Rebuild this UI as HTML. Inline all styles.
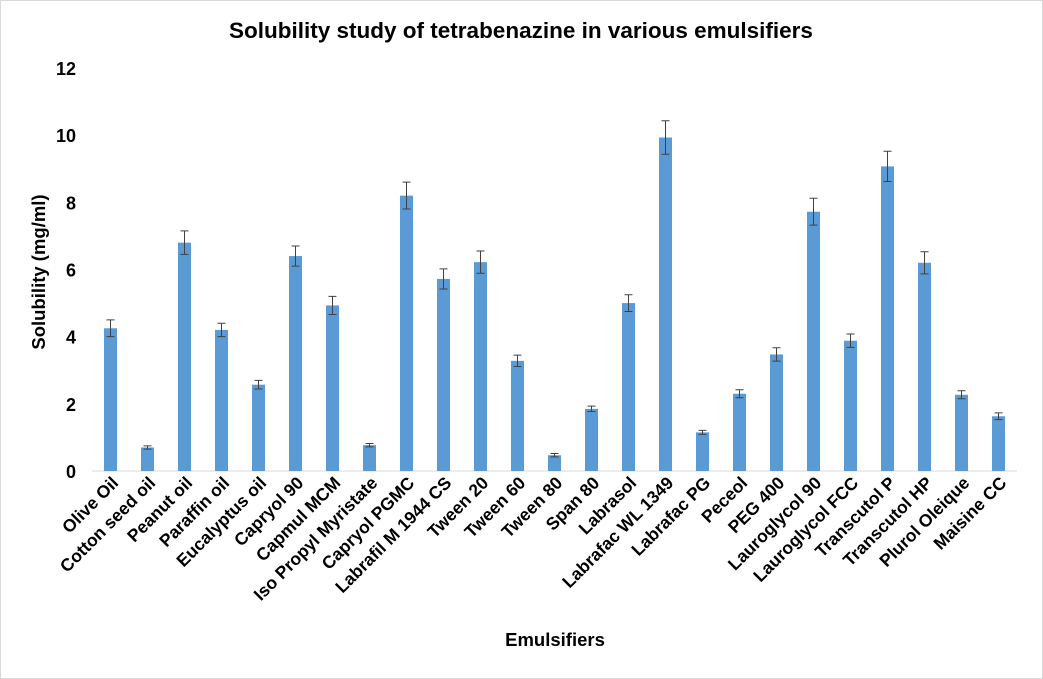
<!DOCTYPE html>
<html><head><meta charset="utf-8"><style>
body{margin:0;background:#fff;}
svg{display:block;font-family:"Liberation Sans",Arial,sans-serif;}
</style></head><body>
<svg width="1043" height="679" id="chart">
<rect x="0.5" y="0.5" width="1042" height="678" fill="#fff" stroke="#d9d9d9"/>
<text x="521" y="38" text-anchor="middle" font-size="22.5" font-weight="bold" fill="#000">Solubility study of tetrabenazine in various emulsifiers</text>
<text transform="translate(45,272) rotate(-90)" text-anchor="middle" font-size="18.5" font-weight="bold">Solubility (mg/ml)</text>
<text x="555" y="646" text-anchor="middle" font-size="18.5" font-weight="bold">Emulsifiers</text>
<g id="plot"></g>
</svg>
<script>
const categories=["Olive Oil","Cotton seed oil","Peanut oil","Paraffin oil","Eucalyptus oil","Capryol 90","Capmul MCM","Iso Propyl Myristate","Capryol PGMC","Labrafil M 1944 CS","Tween 20","Tween 60","Tween 80","Span 80","Labrasol","Labrafac WL 1349","Labrafac PG","Peceol","PEG 400","Lauroglycol 90","Lauroglycol FCC","Transcutol P","Transcutol HP","Plurol Oleique","Maisine CC"];
const values=[4.25,0.7,6.8,4.2,2.57,6.4,4.93,0.77,8.2,5.72,6.22,3.28,0.47,1.85,5.0,9.93,1.15,2.3,3.47,7.72,3.88,9.07,6.2,2.27,1.63];
const errors=[0.25,0.05,0.35,0.2,0.13,0.3,0.27,0.05,0.4,0.3,0.33,0.17,0.05,0.08,0.25,0.5,0.06,0.12,0.2,0.4,0.2,0.45,0.33,0.12,0.1];
const yTicks=[0,2,4,6,8,10,12];
const NS="http://www.w3.org/2000/svg";
const g=document.getElementById('plot');
const x0=92,x1=1017,yBase=471,yTop=68,yMax=12;
const band=(x1-x0)/categories.length;
const xc=i=>x0+band*(i+0.5);
const y=v=>yBase-(v/yMax)*(yBase-yTop);
function mk(t,a){const e=document.createElementNS(NS,t);for(const k in a)e.setAttribute(k,a[k]);g.appendChild(e);return e;}
yTicks.forEach(t=>{
  const e=mk('text',{x:76,y:y(t)+7,'text-anchor':'end','font-size':18,'font-weight':'bold'});
  e.textContent=t;
  
  
});
const ax=mk('line',{x1:x0,x2:x1,y1:yBase,y2:yBase,stroke:'#d9d9d9','stroke-width':1});


categories.forEach((c,i)=>{
  const cx=xc(i),bw=13;
  const b=mk('rect',{x:cx-bw/2,y:y(values[i]),width:bw,height:yBase-y(values[i]),fill:'#5b9bd5'});
  
  
  const hi=y(values[i]+errors[i]),lo=y(values[i]-errors[i]);
  const p=mk('path',{d:`M${cx},${hi}V${lo}M${cx-4},${hi}H${cx+4}M${cx-4},${lo}H${cx+4}`,stroke:'#404040','stroke-width':1,fill:'none'});
  
  
  const t=mk('text',{transform:`translate(${cx+9},${484}) rotate(-45)`,'text-anchor':'end','font-size':17.5,'font-weight':'bold'});
  t.textContent=c;
  
  
});
</script>
</body></html>
